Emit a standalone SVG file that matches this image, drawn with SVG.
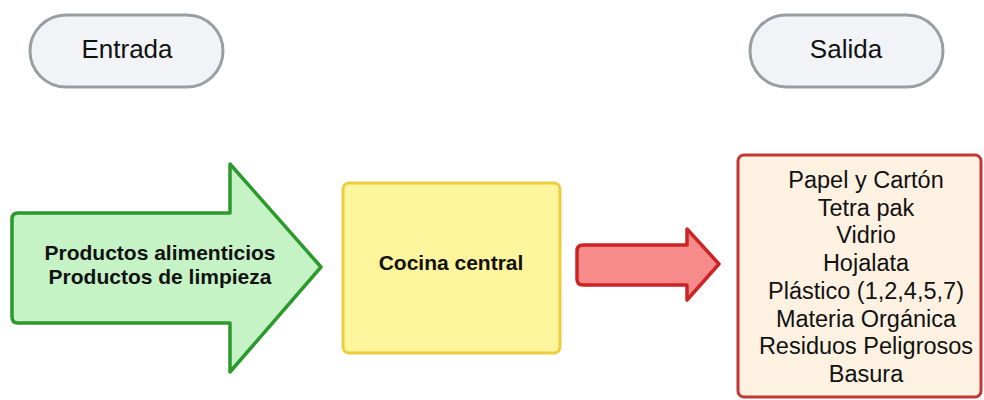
<svg xmlns="http://www.w3.org/2000/svg" width="984" height="400" viewBox="0 0 984 400">
<style>
.pill{fill:#f1f3f6;stroke:#9a9ea3;stroke-width:3}
.t{font-family:"Liberation Sans",Arial,sans-serif;fill:#111;text-anchor:middle}
.b{font-weight:bold}
</style>
<rect width="984" height="400" fill="#ffffff"/>
<g id="entrada">
<rect class="pill" x="30" y="15" width="193" height="72" rx="36" ry="36"/>
<text class="t" x="127" y="58" font-size="26">Entrada</text>
</g>
<g id="salida">
<rect class="pill" x="750" y="15" width="193" height="72" rx="36" ry="36"/>
<text class="t" x="846" y="58" font-size="26">Salida</text>
</g>
<g id="insumos">
<path d="M18,213 L230,213 L230,164 L321,267 L230,372 L230,323 L18,323 Q12,323 12,317 L12,219 Q12,213 18,213 Z" fill="#c6f3c6" stroke="#2c992c" stroke-width="3.5" stroke-linejoin="round"/>
<text class="t b" x="160" y="260" font-size="21">Productos alimenticios</text>
<text class="t b" x="160" y="284" font-size="21">Productos de limpieza</text>
</g>
<g id="cocina">
<rect x="343" y="183" width="217" height="170" rx="6" ry="6" fill="#fff59d" stroke="#ebcd3d" stroke-width="3"/>
<text class="t b" x="451" y="270" font-size="21">Cocina central</text>
</g>
<g id="connectors">
<path d="M583,245 L687,245 L687,229 L719,264 L687,300 L687,285 L583,285 Q577,285 577,279 L577,251 Q577,245 583,245 Z" fill="#f78a8a" stroke="#cc2424" stroke-width="3.5" stroke-linejoin="round"/>
</g>
<g id="residuos">
<rect x="738" y="155" width="243" height="242" rx="6" ry="6" fill="#fdf2e2" stroke="#c43636" stroke-width="3"/>
<g class="t" font-size="23.5">
<text x="866" y="188">Papel y Cartón</text>
<text x="866" y="215.7">Tetra pak</text>
<text x="866" y="243.4">Vidrio</text>
<text x="866" y="271">Hojalata</text>
<text x="866" y="298.8">Plástico (1,2,4,5,7)</text>
<text x="866" y="326.5">Materia Orgánica</text>
<text x="866" y="354">Residuos Peligrosos</text>
<text x="866" y="382">Basura</text>
</g>
</g>
</svg>
